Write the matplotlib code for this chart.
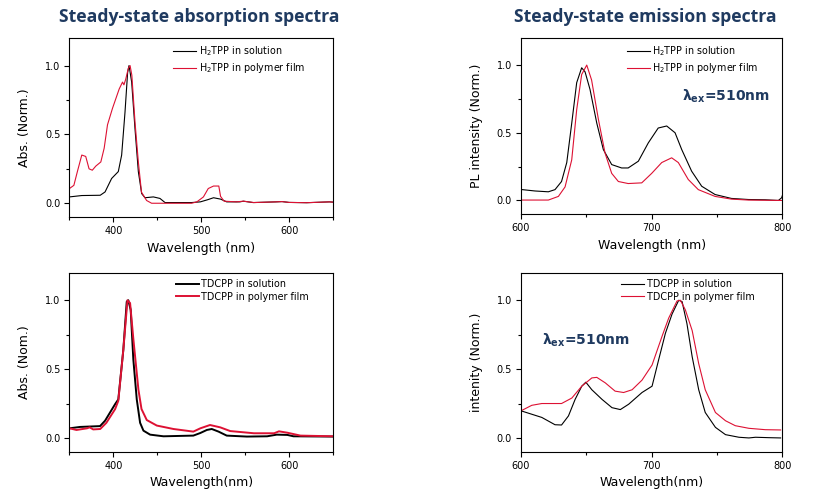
import matplotlib
matplotlib.use("Agg")
import matplotlib.pyplot as plt
from matplotlib.ticker import MultipleLocator, FormatStrFormatter

# ---- H2TPP absorption ----
abs_h2_sol_wl = [350, 364, 385, 390.5, 398, 405.6, 409.4, 413.2, 416.2, 417.8, 420.8, 424.6,
                 428.4, 432.2, 436, 445.5, 453, 458.8, 468, 489, 499, 507, 514, 522, 529,
                 544, 548, 559, 585, 592, 600, 620, 646, 650]
abs_h2_sol = [0.046, 0.056, 0.058, 0.082, 0.18, 0.23, 0.35, 0.66, 0.95, 1.0, 0.88, 0.54,
              0.23, 0.07, 0.04, 0.046, 0.035, 0.005, 0.005, 0.005, 0.01, 0.025, 0.04, 0.03, 0.01,
              0.01, 0.015, 0.005, 0.01, 0.012, 0.006, 0.004, 0.01, 0.008]

abs_h2_film_wl = [350, 355, 359, 364, 368.5, 372.3, 376, 380, 385.7, 389.5, 393.3, 399,
                  402.8, 406.6, 410.4, 412, 414, 417, 419, 421, 424.6, 428.4, 432, 437.8,
                  443.5, 489, 495, 502.5, 508, 514, 520, 522, 526, 540, 548, 560, 585, 592,
                  600, 620, 646, 650]
abs_h2_film = [0.107, 0.13, 0.23, 0.35, 0.34, 0.25, 0.24, 0.27, 0.30, 0.40, 0.57, 0.69,
               0.76, 0.83, 0.88, 0.86, 0.90, 0.98, 1.0, 0.93, 0.59, 0.30, 0.08, 0.02,
               0.0, 0.0, 0.01, 0.046, 0.107, 0.125, 0.125, 0.05, 0.015, 0.01, 0.015, 0.005,
               0.01, 0.012, 0.006, 0.004, 0.01, 0.008]

# ---- H2TPP emission ----
em_h2_sol_wl = [600, 610.7, 620.9, 626, 631, 635, 638.8, 642.6, 646.4, 649, 652.8, 658,
                663, 669.4, 677, 682, 689.8, 697.4, 705, 711.5, 717.9, 723, 730.6, 738.3,
                748.5, 761, 774, 786.8, 797, 799.5, 800]
em_h2_sol = [0.081, 0.07, 0.064, 0.08, 0.14, 0.28, 0.57, 0.87, 0.98, 0.95, 0.82, 0.57,
             0.376, 0.265, 0.24, 0.24, 0.29, 0.425, 0.535, 0.55, 0.50, 0.376, 0.216, 0.105,
             0.044, 0.015, 0.007, 0.005, 0.0, 0.02, 0.035]

em_h2_film_wl = [600, 620.9, 628.6, 633.7, 638.8, 642.6, 646.4, 650.3, 654, 659.2, 664.3,
                 669.4, 674.5, 682, 692.4, 700, 707.7, 715.3, 720.4, 728, 735.7, 748.5,
                 761, 774, 800]
em_h2_film = [0.003, 0.003, 0.03, 0.1, 0.30, 0.67, 0.93, 1.0, 0.89, 0.60, 0.35,
              0.20, 0.14, 0.125, 0.13, 0.20, 0.28, 0.315, 0.28, 0.155, 0.08, 0.03,
              0.01, 0.003, 0.0]

# ---- TDCPP absorption ----
abs_td_sol_wl = [350, 362, 384.8, 390.5, 396.2, 401.9, 405.6, 411.3, 415.2, 417, 419.7,
                 422.7, 426.6, 430.4, 434.2, 441.8, 457, 491, 499, 506.4, 512, 519.7,
                 529, 552, 575, 586, 598, 605, 650]
abs_td_sol = [0.07, 0.08, 0.086, 0.125, 0.185, 0.245, 0.28, 0.64, 0.99, 1.0, 0.93,
              0.57, 0.28, 0.11, 0.053, 0.024, 0.012, 0.017, 0.036, 0.058, 0.065, 0.046,
              0.017, 0.01, 0.012, 0.024, 0.022, 0.012, 0.01]

abs_td_film_wl = [350, 358, 370, 373, 377, 385, 392, 402, 405.6, 411.3, 416, 419, 422.7,
                  428.5, 432, 438, 449.4, 468.4, 491, 499, 510, 521.6, 533, 560, 583,
                  588.5, 598, 613, 650]
abs_td_film = [0.07, 0.058, 0.07, 0.077, 0.062, 0.065, 0.11, 0.21, 0.27, 0.64, 1.0, 0.98,
               0.72, 0.35, 0.21, 0.13, 0.09, 0.065, 0.046, 0.07, 0.094, 0.077, 0.05,
               0.034, 0.034, 0.048, 0.038, 0.017, 0.012]

# ---- TDCPP emission ----
em_td_sol_wl = [600, 615.9, 626, 631, 636.3, 641.4, 646.5, 649.6, 654.2, 662, 669.6, 676,
                682.4, 692.6, 700.3, 705.4, 710.5, 715.6, 720.7, 723.3, 727, 731, 736, 741,
                748.8, 756.5, 766.8, 774.4, 779.5, 789.8, 798.7]
em_td_sol = [0.197, 0.149, 0.096, 0.094, 0.16, 0.28, 0.376, 0.405, 0.35, 0.28, 0.22, 0.206,
             0.245, 0.33, 0.376, 0.57, 0.76, 0.90, 1.0, 0.99, 0.83, 0.59, 0.35, 0.185,
             0.077, 0.024, 0.005, 0.0, 0.005, 0.002, 0.0]

em_td_film_wl = [600, 608.2, 615.9, 631, 638.9, 646.5, 654.2, 658, 664.5, 672, 678.5, 685,
                 692.6, 700.3, 708, 713, 719.4, 722, 725.8, 731, 736, 741, 748.8, 756.5,
                 764, 774.4, 787, 798.7]
em_td_film = [0.197, 0.237, 0.25, 0.25, 0.29, 0.376, 0.436, 0.44, 0.40, 0.34, 0.33, 0.35,
              0.42, 0.53, 0.74, 0.87, 0.995, 1.0, 0.93, 0.78, 0.54, 0.35, 0.185, 0.125,
              0.089, 0.07, 0.06, 0.058]

RED = "#dd1133"
NAVY = "#1f3a60"
plt.rcParams["font.family"] = "DejaVu Sans"

fig = plt.figure(figsize=(8.35, 4.94), dpi=100)

ax1 = fig.add_axes([0.0832, 0.5607, 0.3156, 0.3623])
ax2 = fig.add_axes([0.624, 0.5668, 0.3129, 0.3563])
ax3 = fig.add_axes([0.0832, 0.0856, 0.3156, 0.3623])
ax4 = fig.add_axes([0.624, 0.0856, 0.3129, 0.3623])


def style(ax, xlim, major, ylabel, xlabel):
    ax.set_xlim(*xlim)
    ax.set_ylim(-0.1, 1.2)
    ax.xaxis.set_major_locator(MultipleLocator(major))
    ax.xaxis.set_minor_locator(MultipleLocator(major / 2))
    ax.yaxis.set_major_locator(MultipleLocator(0.5))
    ax.yaxis.set_minor_locator(MultipleLocator(0.25))
    ax.yaxis.set_major_formatter(FormatStrFormatter("%.1f"))
    ax.tick_params(which="major", direction="out", length=3.5, width=0.8,
                   labelsize=7, top=False, right=False, pad=3)
    ax.tick_params(which="minor", direction="out", length=2.5, width=0.8,
                   top=False, right=False)
    for s in ax.spines.values():
        s.set_linewidth(0.8)
    ax.set_ylabel(ylabel, fontsize=9, labelpad=10)
    ax.set_xlabel(xlabel, fontsize=9, labelpad=4)


def legend(ax, x0):
    ax.legend(loc="upper left", bbox_to_anchor=(x0, 1.0), frameon=False,
              fontsize=6.9, handlelength=2.4, handletextpad=0.25,
              labelspacing=0.3, borderaxespad=0.25)


ax1.plot(abs_h2_sol_wl, abs_h2_sol, color="black", lw=0.8, label="H$_2$TPP in solution")
ax1.plot(abs_h2_film_wl, abs_h2_film, color=RED, lw=0.8, label="H$_2$TPP in polymer film")
style(ax1, (350, 650), 100, "Abs. (Norm.)", "Wavelength (nm)")
legend(ax1, 0.37)

ax2.plot(em_h2_sol_wl, em_h2_sol, color="black", lw=0.8, label="H$_2$TPP in solution")
ax2.plot(em_h2_film_wl, em_h2_film, color=RED, lw=0.8, label="H$_2$TPP in polymer film")
style(ax2, (600, 800), 100, "PL intensity (Norm.)", "Wavelength (nm)")
legend(ax2, 0.38)
ax2.text(723, 0.77, r"$\mathbf{\lambda}_{\mathbf{ex}}$=510nm", fontsize=10,
         fontweight="bold", color=NAVY, va="center")

ax3.plot(abs_td_sol_wl, abs_td_sol, color="black", lw=1.4, label="TDCPP in solution")
ax3.plot(abs_td_film_wl, abs_td_film, color=RED, lw=1.4, label="TDCPP in polymer film")
style(ax3, (350, 650), 100, "Abs. (Nom.)", "Wavelength(nm)")
legend(ax3, 0.38)

ax4.plot(em_td_sol_wl, em_td_sol, color="black", lw=0.8, label="TDCPP in solution")
ax4.plot(em_td_film_wl, em_td_film, color=RED, lw=0.8, label="TDCPP in polymer film")
style(ax4, (600, 800), 100, "intenity (Norm.)", "Wavelength(nm)")
legend(ax4, 0.36)
ax4.text(616, 0.71, r"$\mathbf{\lambda}_{\mathbf{ex}}$=510nm", fontsize=10,
         fontweight="bold", color=NAVY, va="center")

fig.text(199 / 835, 1 - 17 / 494, "Steady-state absorption spectra", fontsize=12.7,
         fontweight="bold", family="Open Sans", color=NAVY, ha="center", va="center")
fig.text(645 / 835, 1 - 17 / 494, "Steady-state emission spectra", fontsize=12.7,
         fontweight="bold", family="Open Sans", color=NAVY, ha="center", va="center")

fig.savefig("out.png", dpi=100)
plt.close(fig)
